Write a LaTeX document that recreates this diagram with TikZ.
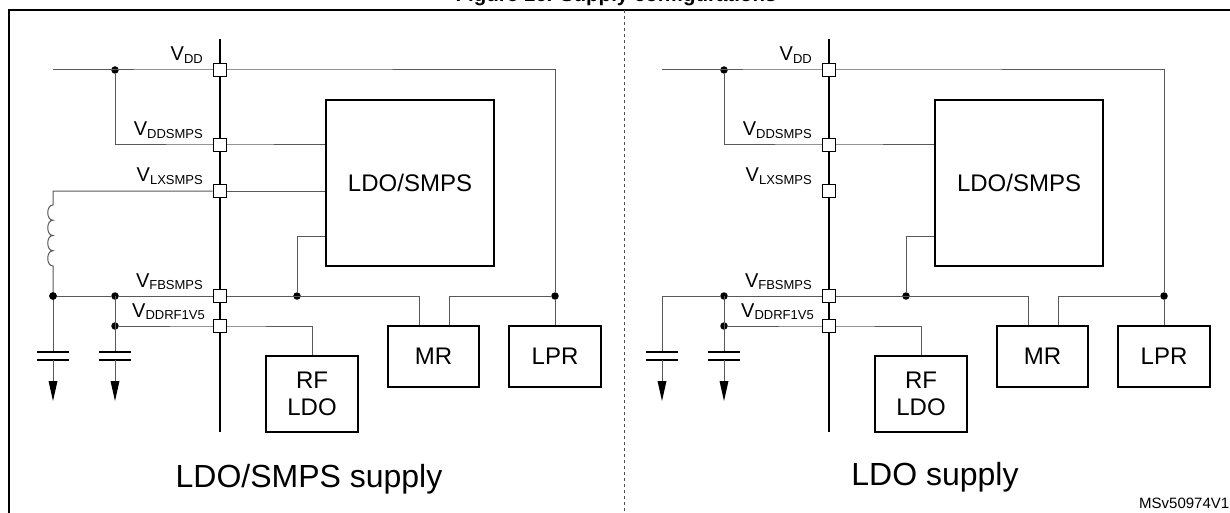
\documentclass[tikz,border=0pt]{standalone}
\usepackage{fontspec}
\setmainfont{Liberation Sans}
\begin{document}
\begin{tikzpicture}[x=1pt,y=-1pt,
  wire/.style={draw=black!65,line width=1pt},
  pin/.style={draw=black,line width=1.6pt,fill=white,minimum size=13pt,inner sep=0pt},
  blk/.style={draw=black,line width=1.8pt,inner sep=0pt,align=center,font=\fontsize{24}{27}\selectfont},
  dot/.style={circle,fill=black,inner sep=0pt,minimum size=7.5pt},
  lbl/.style={anchor=base east,inner sep=0pt},
  plate/.style={draw=black,line width=2.2pt},
  gnd/.style={fill=black}]
\useasboundingbox (0,0) rectangle (1230,513);
\newcommand{\vlab}[1]{{\fontsize{20}{20}\selectfont V}\raisebox{-2.5pt}{\fontsize{13}{13}\selectfont #1}}
\newcommand{\capgnd}[2]{% x, top y
  \draw[wire] (#1,#2) -- (#1,352);
  \draw[plate] (#1-16,352) -- (#1+16,352);
  \draw[plate] (#1-16,360) -- (#1+16,360);
  \draw[wire] (#1,360) -- (#1,384);
  \fill[gnd] (#1-4.5,381) -- (#1+4.5,381) -- (#1,401) -- cycle;}
\newcommand{\panel}{%
  \draw[line width=2.4pt] (220,39) -- (220,432);
  \node[blk,minimum width=168pt,minimum height=166pt] (LDO) at (410,183) {LDO/SMPS};
  \node[blk,minimum width=91pt,minimum height=61pt] (MR) at (433.5,356.5) {MR};
  \node[blk,minimum width=92pt,minimum height=61pt] (LPR) at (555,356.5) {LPR};
  \node[blk,minimum width=92pt,minimum height=76pt] (RF) at (312,394) {RF\\LDO};
  \coordinate (vin) at (53,70);
  \node[dot] (d1) at (115,70) {};
  \node[dot] (dRF) at (115,326) {};
  \node[dot] (dFB) at (115,296) {};
  \node[dot] (dLDO) at (297,296) {};
  \node[dot] (dLPR) at (555,296) {};
  \coordinate (mr1) at (419,296);
  \coordinate (mr2) at (449,296);
  \draw[wire] (vin) -- (220,70) -- (555,70) -- (dLPR) -- (LPR.north);
  \draw[wire] (d1) |- (220,145) -- (LDO.west |- 0,145);
  \draw[wire] (LDO.west |- 0,236) -| (dLDO);
  \draw[wire] (220,296) -- (mr1) -- (mr1 |- MR.north);
  \draw[wire] (mr2 |- MR.north) -- (mr2) -- (dLPR);
  \draw[wire] (dRF) -- (220,326) -| (RF.north);
  \draw[wire] (dFB) -- (220,296);
  \capgnd{115}{296}
  \node[pin] (pVDD) at (220,70) {};
  \node[pin] (pDDS) at (220,145) {};
  \node[pin] (pLX) at (220,191) {};
  \node[pin] (pFB) at (220,296) {};
  \node[pin] (pRF) at (220,326) {};
  \node[lbl] at (203,61) {\vlab{DD}};
  \node[lbl] at (203,136) {\vlab{DDSMPS}};
  \node[lbl] at (203,182) {\vlab{LXSMPS}};
  \node[lbl] at (203,287) {\vlab{FBSMPS}};
  \node[lbl] at (205,317) {\vlab{DDRF1V5}};
}
% title (clipped)
\node[anchor=base,inner sep=0pt,font=\bfseries\fontsize{20.5}{20.5}\selectfont] (title) at (616,2) {Figure 16. Supply configurations};
\draw[line width=2pt] (9,513) -- (9,10) -- (1230,10);
\draw[black!70,dashed,line width=0.8pt] (624,10) -- (624,513);
% left panel
\begin{scope}[name prefix=L-]
\panel
\node[dot] (dind) at (53,296) {};
\draw[wire] (pLX.west) -- (53,191) -- (53,205)
  .. controls (46,205) and (46,220.25) .. (53,220.25)
  .. controls (46,220.25) and (46,235.5) .. (53,235.5)
  .. controls (46,235.5) and (46,250.75) .. (53,250.75)
  .. controls (46,250.75) and (46,266) .. (53,266) -- (dind);
\draw[wire] (pLX.east) -- (LDO.west |- pLX);
\draw[wire] (dind) -- (dFB);
\capgnd{53}{296}
\node[dot] at (53,296) {};
\node[anchor=base,inner sep=0pt,font=\fontsize{32}{32}\selectfont] (cap) at (309,487) {LDO/SMPS supply};
\end{scope}
% right panel
\begin{scope}[xshift=609pt,name prefix=R-]
\panel
\coordinate (c1) at (53,296);
\draw[wire] (c1) -- (dFB);
\capgnd{53}{296}
\node[anchor=base,inner sep=0pt,font=\fontsize{32}{32}\selectfont] (cap) at (326,485) {LDO supply};
\end{scope}
\node[anchor=base west,inner sep=0pt,font=\fontsize{15}{15}\selectfont] (ref) at (1139,508) {MSv50974V1};
\end{tikzpicture}
\end{document}
